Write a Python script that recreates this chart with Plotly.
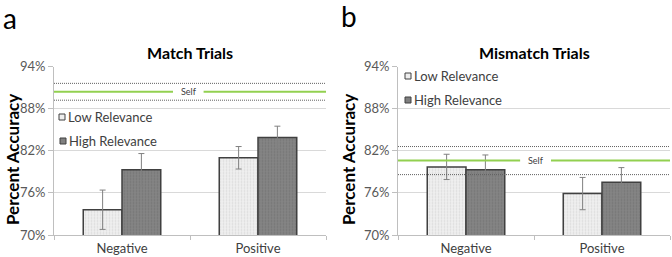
import plotly.graph_objects as go

categories = ["Negative", "Positive"]
tick_vals = [70, 76, 82, 88, 94]
tick_text = ["70%", "76%", "82%", "88%", "94%"]

match_low = [73.6, 81.0]
match_low_err = [2.8, 1.6]
match_high = [79.3, 83.9]
match_high_err = [2.3, 1.6]

mismatch_low = [79.7, 75.9]
mismatch_low_err = [1.8, 2.3]
mismatch_high = [79.3, 77.5]
mismatch_high_err = [2.1, 2.1]

self_match = 90.4
self_match_ci = 1.2
self_mismatch = 80.6
self_mismatch_ci = 2.0

FONT = "Lato"
W, H = 672, 257

def px(x):
    return x / W

def py(y):
    return 1 - y / H

low_pattern = dict(shape=".", bgcolor="#f0f0f0", fgcolor="#c4c4c4", size=3, solidity=0.3)
high_pattern = dict(shape=".", bgcolor="#858585", fgcolor="#666666", size=3, solidity=0.3)
bar_line = dict(color="#404040", width=1.5)
err_style = dict(type="data", color="#808080", thickness=1, width=3)

fig = go.Figure()
panels = [
    ("x", "y", match_low, match_low_err, match_high, match_high_err),
    ("x2", "y2", mismatch_low, mismatch_low_err, mismatch_high, mismatch_high_err),
]
for xa, ya, lo, lo_e, hi, hi_e in panels:
    fig.add_trace(go.Bar(x=categories, y=lo, xaxis=xa, yaxis=ya, name="Low Relevance",
                         marker=dict(pattern=low_pattern, line=bar_line, color="#f0f0f0"),
                         error_y=dict(array=lo_e, **err_style), showlegend=False))
    fig.add_trace(go.Bar(x=categories, y=hi, xaxis=xa, yaxis=ya, name="High Relevance",
                         marker=dict(pattern=high_pattern, line=bar_line, color="#858585"),
                         error_y=dict(array=hi_e, **err_style), showlegend=False))

yax = dict(range=[70, 94], tickvals=tick_vals, ticktext=tick_text, showgrid=True,
           gridcolor="#d9d9d9", gridwidth=1, showline=True, linecolor="#bfbfbf",
           ticks="outside", ticklen=5, tickcolor="#bfbfbf", automargin=False,
           tickfont=dict(family=FONT, size=13, color="#595959"), zeroline=False, fixedrange=True)
xax = dict(showline=True, linecolor="#bfbfbf", ticks="outside", ticklen=4, tickcolor="#bfbfbf",
           tickson="boundaries", tickfont=dict(family=FONT, size=13, color="#404040"),
           ticklabelstandoff=1, automargin=False, showgrid=False)

ydom = [py(235), py(66.5)]
fig.update_layout(
    width=W, height=H, margin=dict(l=0, r=0, t=0, b=0, autoexpand=False),
    paper_bgcolor="white", plot_bgcolor="white",
    barmode="group", bargap=0.43, bargroupgap=0,
    xaxis=dict(domain=[px(54), px(326)], anchor="y", **xax),
    yaxis=dict(domain=ydom, anchor="x", **yax),
    xaxis2=dict(domain=[px(398), px(670)], anchor="y2", **xax),
    yaxis2=dict(domain=ydom, anchor="x2", **yax),
    showlegend=False,
)

shapes = []
annotations = []

def self_lines(xref, yref, val, ci, gap0, gap1, labelx):
    for v in (val + ci, val - ci):
        shapes.append(dict(type="line", xref=f"{xref} domain", yref=yref, x0=0, x1=1, y0=v, y1=v,
                           line=dict(color="#606060", width=1, dash="1px,1px")))
    shapes.append(dict(type="line", xref=f"{xref} domain", yref=yref, x0=0, x1=gap0, y0=val, y1=val,
                       line=dict(color="#92d050", width=2)))
    shapes.append(dict(type="line", xref=f"{xref} domain", yref=yref, x0=gap1, x1=1, y0=val, y1=val,
                       line=dict(color="#92d050", width=2)))
    annotations.append(dict(xref=f"{xref} domain", yref=yref, x=labelx, y=val, text="Self",
                            showarrow=False, font=dict(family=FONT, size=9, color="#404040")))

self_lines("x", "y", self_match, self_match_ci, 0.4375, 0.55, 0.495)
self_lines("x2", "y2", self_mismatch, self_mismatch_ci, 0.449, 0.5625, 0.507)

# legends (hand drawn)
def legend_item(x_box, yc, fill, label):
    shapes.append(dict(type="rect", xref="paper", yref="paper", x0=px(x_box), x1=px(x_box + 6),
                       y0=py(yc + 3), y1=py(yc - 3), fillcolor=fill,
                       line=dict(color="#404040", width=1)))
    annotations.append(dict(xref="paper", yref="paper", x=px(x_box + 7), y=py(yc), xanchor="left",
                            yanchor="middle", text=label, showarrow=False,
                            font=dict(family=FONT, size=13, color="#404040")))

legend_item(59, 117, "#eeeeee", "Low Relevance")
legend_item(60, 141, "#808080", "High Relevance")
legend_item(405, 76, "#eeeeee", "Low Relevance")
legend_item(405, 100, "#808080", "High Relevance")

# titles
for xc, t in ((190, "Match Trials"), (534, "Mismatch Trials")):
    annotations.append(dict(xref="paper", yref="paper", x=px(xc), y=py(53), text=f"<b>{t}</b>",
                            showarrow=False, xanchor="center", yanchor="middle",
                            font=dict(family=FONT, size=16, color="black")))
for xc in (12, 348):
    annotations.append(dict(xref="paper", yref="paper", x=px(xc), y=py(160), text="<b>Percent Accuracy</b>",
                            showarrow=False, textangle=-90, xanchor="center", yanchor="middle",
                            font=dict(family=FONT, size=17, color="black")))
for xc, yc, t in ((10, 18, "a"), (349, 16, "b")):
    annotations.append(dict(xref="paper", yref="paper", x=px(xc), y=py(yc), text=t,
                            showarrow=False, xanchor="center", yanchor="middle",
                            font=dict(family=FONT, size=28, color="black")))

fig.update_layout(shapes=shapes, annotations=annotations)
fig.write_html("out.html")
